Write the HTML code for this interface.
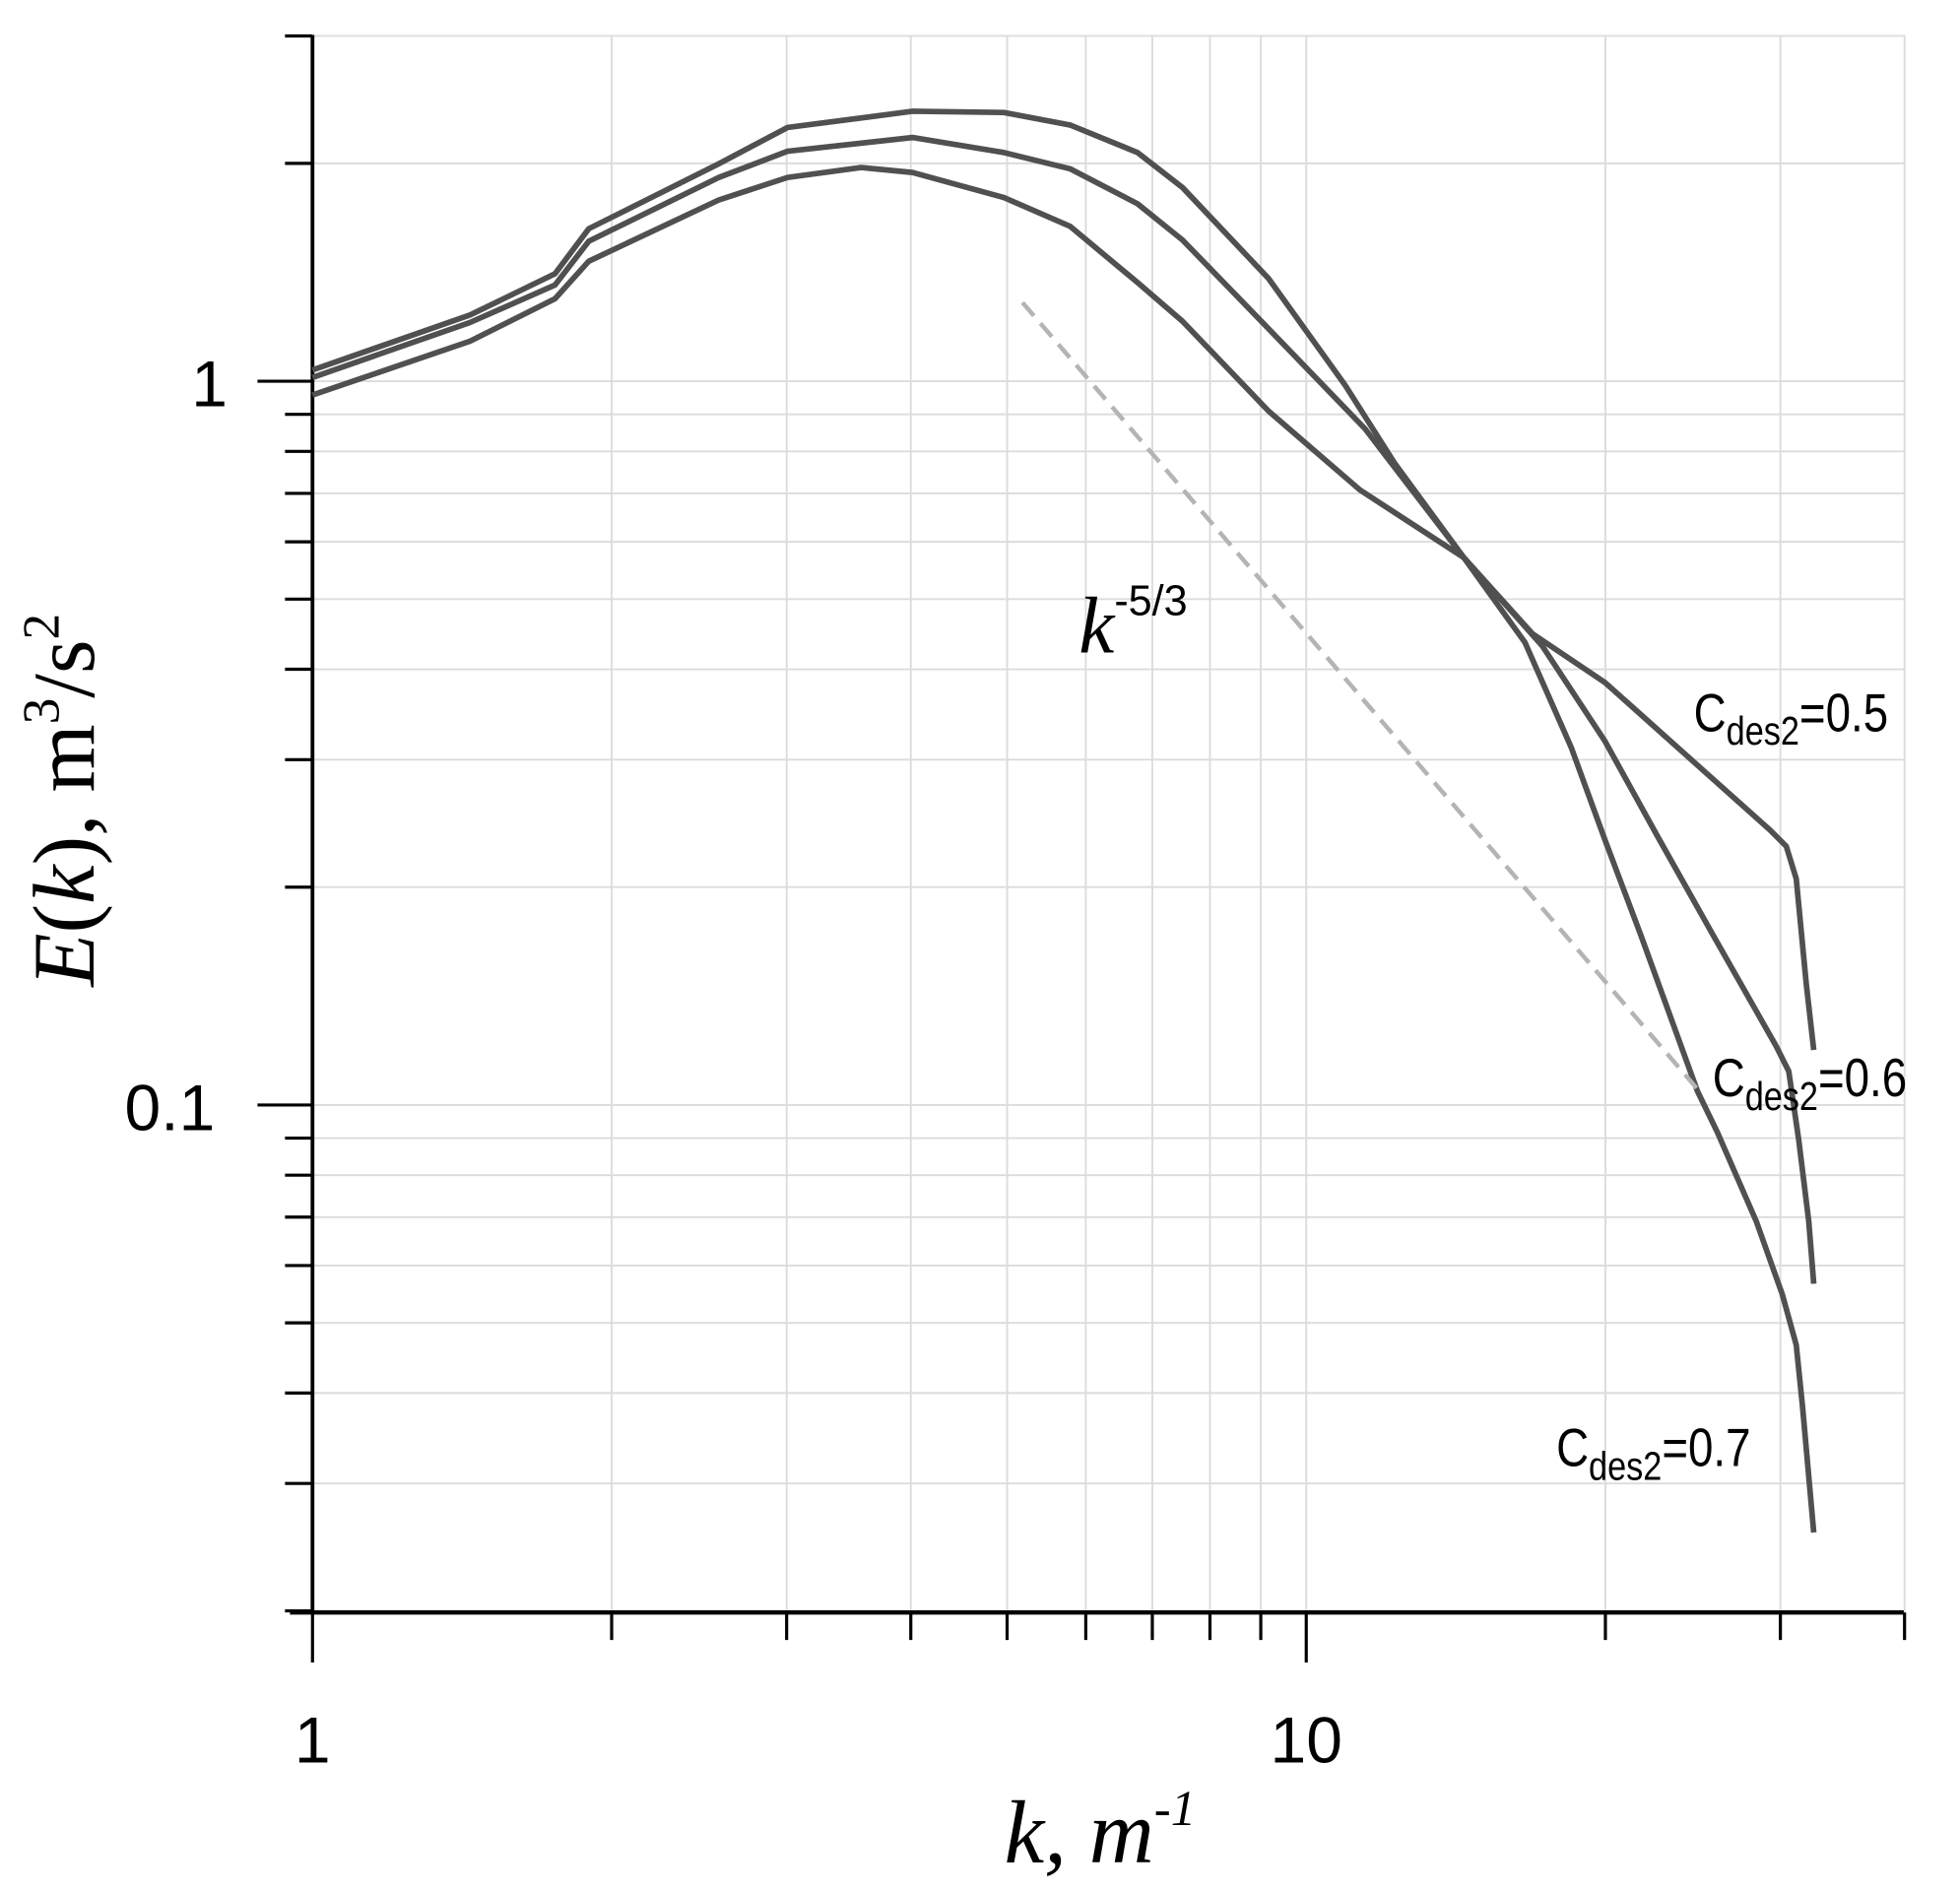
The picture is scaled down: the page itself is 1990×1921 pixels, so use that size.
<!DOCTYPE html>
<html><head><meta charset="utf-8"><style>html,body{margin:0;padding:0;background:#fff;}svg{display:block}</style></head>
<body>
<svg id="s" width="1990" height="1921" viewBox="0 0 1568 1513.6" preserveAspectRatio="none" xmlns="http://www.w3.org/2000/svg">
<g id="grid"></g>
<g id="ticks" stroke="#000" stroke-width="2.5"></g>
<line x1="250" y1="28" x2="250" y2="1290" stroke="#000" stroke-width="3"/>
<line x1="232" y1="1290" x2="1523" y2="1290" stroke="#000" stroke-width="3.5"/>
<g fill="none" stroke="#505050" stroke-width="4.5" stroke-linejoin="round">
<polyline points="250,296 376,252 444,219 471,183 575,131 630,102 730,89 803,90 856,100 910,122 946,150 1015,223 1076,308 1116,371 1171,446 1220,514 1257,598 1284,672 1313,749 1358,873 1374,906 1405,977 1426,1036 1437,1076 1442,1125 1451,1226"/>
<polyline points="250,302 376,258 444,228 471,193 575,142 630,121 730,110 803,122 856,135 910,163 946,192 1011,259 1092,343 1171,446 1234,517 1284,593 1326,669 1371,749 1421,837 1431,857 1439,912 1447,977 1451,1027"/>
<polyline points="250,316 376,273 444,239 471,209 575,160 630,142 689,134 730,138 803,158 856,181 910,226 946,257 1015,329 1088,392 1171,446 1226,507 1284,546 1360,614 1416,664 1429,677 1437,703 1445,787 1451,840"/>
</g>
<line x1="818" y1="242" x2="1362" y2="876" stroke="#b4b4b4" stroke-width="3.5" stroke-dasharray="14,8"/>
<g font-family="Liberation Sans, sans-serif" fill="#000">
<text x="182" y="325" font-size="52" text-anchor="end">1</text>
<text x="172" y="904" font-size="52" text-anchor="end">0.1</text>
<text x="250" y="1410" font-size="52" text-anchor="middle">1</text>
<text x="1045" y="1410" font-size="52" text-anchor="middle">10</text>
<text transform="translate(1355,585) scale(1,1.2)" font-size="36">C<tspan font-size="27" dy="9">des2</tspan><tspan dy="-9">=0.5</tspan></text>
<text transform="translate(1370,877) scale(1,1.2)" font-size="36">C<tspan font-size="27" dy="9">des2</tspan><tspan dy="-9">=0.6</tspan></text>
<text transform="translate(1245,1173) scale(1,1.2)" font-size="36">C<tspan font-size="27" dy="9">des2</tspan><tspan dy="-9">=0.7</tspan></text>
</g>
<text x="863" y="522" font-family="Liberation Serif, serif" font-style="italic" font-size="64">k<tspan font-family="Liberation Sans, sans-serif" font-style="normal" font-size="34" dy="-30">-5/3</tspan></text>
<text x="880" y="1490" text-anchor="middle" font-family="Liberation Serif, serif" font-style="italic" font-size="72">k,  m<tspan font-size="40" dy="-30">-1</tspan></text>
<text transform="translate(75,640) rotate(-90)" text-anchor="middle" font-family="Liberation Serif, serif" font-size="70"><tspan font-style="italic">E</tspan>(<tspan font-style="italic">k</tspan>),  m<tspan font-size="42" dy="-28">3</tspan><tspan dy="28">/s</tspan><tspan font-size="42" dy="-28">2</tspan></text>
</svg>
<script>
var ns="http://www.w3.org/2000/svg";
var g=document.getElementById("grid"),t=document.getElementById("ticks");
function L(p,x1,y1,x2,y2,c,w){var l=document.createElementNS(ns,"line");l.setAttribute("x1",x1);l.setAttribute("y1",y1);l.setAttribute("x2",x2);l.setAttribute("y2",y2);if(c)l.setAttribute("stroke",c);if(w)l.setAttribute("stroke-width",w);p.appendChild(l);}
function X(k){return 250+795*Math.log10(k);}
function Y(v){return 305-579*Math.log10(v);}
var xs=[2,3,4,5,6,7,8,9,10,20,30,40];
xs.forEach(function(k){var x=X(k);L(g,x,28,x,1290,"#dcdcdc",1.5);L(t,x,1290,x,(k==10)?1330:1312);});
L(t,250,1290,250,1330);
var ys=[0.02,0.03,0.04,0.05,0.06,0.07,0.08,0.09,0.1,0.2,0.3,0.4,0.5,0.6,0.7,0.8,0.9,1,2,3];
ys.forEach(function(v){var y=Y(v);L(g,250,y,1523,y,"#dcdcdc",1.5);L(t,(v==1||v==0.1)?206:228,y,250,y);});
</script>
</body></html>
